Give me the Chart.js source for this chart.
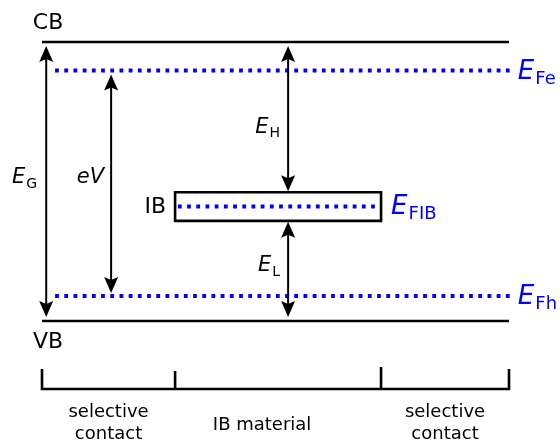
<!DOCTYPE html>
<html>
<head>
<meta charset="utf-8">
<script src="https://cdn.jsdelivr.net/npm/chart.js@4/dist/chart.umd.min.js"></script>
<style>
  html, body { margin: 0; padding: 0; background: #fff; }
  #wrap { width: 560px; height: 446px; }
</style>
</head>
<body>
<div id="wrap"><canvas id="chart"></canvas></div>
<script>
// energies in eV, measured from the valence band edge
const bandNames = ['CB', 'VB'];
const bandEnergies = [1.95, 0];
const fermiLabels = [['E', 'Fe'], ['E', 'FIB'], ['E', 'Fh']];
const fermiEnergies = [1.75, 0.80, 0.175];
const fermiStart = [2.8, 29.1, 2.8];
const fermiEnd = [100.4, 72.4, 100.4];
const ibEdges = [0.70, 0.90];

// device position, % of length
const regionBounds = [0, 28.5, 72.6, 100];
const regionLabels = [['selective', 'contact'], ['IB material'], ['selective', 'contact']];

// energy gaps shown as arrows: [label, subscript, x, from, to]
const gapArrows = [
  ['E', 'G', 0.9, bandEnergies[1], bandEnergies[0]],
  ['eV', '', 14.8, fermiEnergies[2], fermiEnergies[0]],
  ['E', 'H', 52.7, ibEdges[1], bandEnergies[0]],
  ['E', 'L', 52.7, bandEnergies[1], ibEdges[0]]
];

const BLUE = '#0000ff';
const FONT = '"DejaVu Sans", sans-serif';

// layout tweaks, px: arrow end gaps [low, high], label offset [dx, dy]
const arrowGaps = [[4, 4], [3, 4], [1, 4], [4, 1]];
const arrowLabelOffset = [[-9, 2], [-6, -1], [-8, 14], [-8, 2]];
const fermiLabelGap = [7, 11, 7];
const fermiLabelDy = [8, 7, 8];
const regionLabelDx = [0, -16, 0];

const datasets = [];
bandEnergies.forEach((e, i) => {
  datasets.push({
    label: bandNames[i],
    data: [{ x: regionBounds[0], y: e }, { x: regionBounds[3], y: e }],
    borderColor: '#000', borderWidth: 2.6
  });
});
// IB box, path starts mid-way along the bottom so every corner gets a proper join
const ibMid = (regionBounds[1] + regionBounds[2]) / 2;
datasets.push({
  label: 'IB',
  data: [
    { x: ibMid, y: ibEdges[0] },
    { x: regionBounds[2], y: ibEdges[0] }, { x: regionBounds[2], y: ibEdges[1] },
    { x: regionBounds[1], y: ibEdges[1] }, { x: regionBounds[1], y: ibEdges[0] },
    { x: ibMid, y: ibEdges[0] }
  ],
  borderColor: '#000', borderWidth: 2.6, borderJoinStyle: 'miter'
});
fermiEnergies.forEach((e, i) => {
  datasets.push({
    label: fermiLabels[i].join(''),
    data: [{ x: fermiStart[i], y: e }, { x: fermiEnd[i], y: e }],
    borderColor: BLUE, borderWidth: 4, borderDash: [3.8, 5.4]
  });
});

function drawE(ctx, main, sub, x, y, size, color, align) {
  // italic main letter with upright subscript, y = baseline
  ctx.fillStyle = color;
  ctx.textBaseline = 'alphabetic';
  ctx.textAlign = 'left';
  const mainFont = 'italic ' + size + 'px ' + FONT;
  const subFont = Math.round(size * 0.68) + 'px ' + FONT;
  ctx.font = mainFont;
  const w1 = ctx.measureText(main).width;
  ctx.font = subFont;
  const w2 = sub ? ctx.measureText(sub).width : 0;
  let x0 = x;
  if (align === 'right') x0 = x - w1 - w2 - 1;
  ctx.font = mainFont;
  ctx.fillText(main, x0, y);
  if (sub) {
    ctx.font = subFont;
    ctx.fillText(sub, x0 + w1 + 1, y + size * 0.2);
  }
}

function arrowHead(ctx, x, y, dir) {
  // dir = -1 pointing up, 1 pointing down; (x, y) is the tip
  const len = 16, half = 7, notch = 3;
  ctx.beginPath();
  ctx.moveTo(x, y);
  ctx.lineTo(x - half, y - dir * len);
  ctx.lineTo(x, y - dir * (len - notch));
  ctx.lineTo(x + half, y - dir * len);
  ctx.closePath();
  ctx.fill();
}

const diagramPlugin = {
  id: 'diagram',
  afterDatasetsDraw(chart) {
    const ctx = chart.ctx;
    const xs = chart.scales.x, ys = chart.scales.y;
    ctx.save();

    // gap arrows
    ctx.strokeStyle = '#000';
    ctx.fillStyle = '#000';
    ctx.lineWidth = 2;
    gapArrows.forEach(([main, sub, xv, from, to], i) => {
      const px = xs.getPixelForValue(xv);
      const yLow = ys.getPixelForValue(from) - arrowGaps[i][0];
      const yHigh = ys.getPixelForValue(to) + arrowGaps[i][1];
      ctx.beginPath();
      ctx.moveTo(px, yLow - 8);
      ctx.lineTo(px, yHigh + 8);
      ctx.stroke();
      arrowHead(ctx, px, yHigh, -1);
      arrowHead(ctx, px, yLow, 1);
      const mid = (yLow + yHigh) / 2;
      const [dx, dy] = arrowLabelOffset[i];
      drawE(ctx, main, sub, px + dx, mid + dy, 21, '#000', 'right');
    });

    // band labels
    ctx.fillStyle = '#000';
    ctx.font = '22px ' + FONT;
    ctx.textAlign = 'center';
    ctx.textBaseline = 'middle';
    const bx = xs.getPixelForValue(regionBounds[0]) + 6;
    ctx.fillText(bandNames[0], bx, ys.getPixelForValue(bandEnergies[0]) - 19);
    ctx.fillText(bandNames[1], bx, ys.getPixelForValue(bandEnergies[1]) + 21);
    ctx.textAlign = 'right';
    ctx.fillText('IB', xs.getPixelForValue(regionBounds[1]) - 9,
      ys.getPixelForValue((ibEdges[0] + ibEdges[1]) / 2) + 1);

    // quasi-Fermi level labels
    fermiEnergies.forEach((e, i) => {
      const px = xs.getPixelForValue(fermiEnd[i]) + fermiLabelGap[i];
      const py = ys.getPixelForValue(e) + fermiLabelDy[i];
      drawE(ctx, fermiLabels[i][0], fermiLabels[i][1], px, py, 26, BLUE, 'left');
    });

    // region bracket
    const base = ys.getPixelForValue(bandEnergies[1]) + 68;
    ctx.strokeStyle = '#000';
    ctx.lineWidth = 2.6;
    ctx.lineJoin = 'miter';
    ctx.beginPath();
    ctx.moveTo(xs.getPixelForValue(regionBounds[0]), base - 20);
    ctx.lineTo(xs.getPixelForValue(regionBounds[0]), base);
    ctx.lineTo(xs.getPixelForValue(regionBounds[3]), base);
    ctx.lineTo(xs.getPixelForValue(regionBounds[3]), base - 20);
    ctx.stroke();
    [1, 2].forEach(i => {
      const px = xs.getPixelForValue(regionBounds[i]);
      ctx.beginPath();
      ctx.moveTo(px, base - (i === 1 ? 18 : 22));
      ctx.lineTo(px, base);
      ctx.stroke();
    });

    // region names
    ctx.fillStyle = '#000';
    ctx.font = '18px ' + FONT;
    ctx.textAlign = 'center';
    ctx.textBaseline = 'middle';
    regionLabels.forEach((lines, i) => {
      const cx = (xs.getPixelForValue(regionBounds[i]) + xs.getPixelForValue(regionBounds[i + 1])) / 2 + regionLabelDx[i];
      if (lines.length === 2) {
        ctx.fillText(lines[0], cx, base + 23);
        ctx.fillText(lines[1], cx, base + 45);
      } else {
        ctx.fillText(lines[0], cx, base + 36);
      }
    });
    ctx.restore();
  }
};

new Chart(document.getElementById('chart'), {
  type: 'scatter',
  data: { datasets: datasets },
  options: {
    responsive: true,
    maintainAspectRatio: false,
    animation: false,
    showLine: true,
    layout: { padding: 0 },
    elements: { point: { radius: 0, hoverRadius: 0 }, line: { tension: 0, fill: false } },
    scales: {
      x: { type: 'linear', min: -8.994, max: 110.92, display: false },
      y: { type: 'linear', min: -0.8736, max: 2.2435, display: false }
    },
    plugins: { legend: { display: false }, tooltip: { enabled: false } }
  },
  plugins: [diagramPlugin]
});
</script>
</body>
</html>
